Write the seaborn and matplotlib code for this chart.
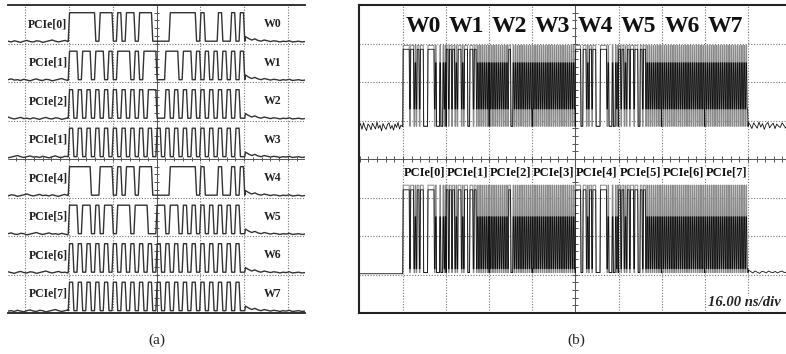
import numpy as np
import matplotlib
matplotlib.use("Agg")
import matplotlib.pyplot as plt
import seaborn as sns

# eight 40-bit words, run lengths starting with a high run
W0_RUNS = [6, 1, 3, 1, 1, 1, 2, 1, 3, 4, 6, 1, 1, 3, 1, 2, 1, 1, 1]
W1_RUNS = [2, 1, 2, 1, 2, 1, 1, 1, 3, 1, 1, 1, 3, 2, 3, 1, 2, 1] + [1] * 11
W2_RUNS = [1] * 18 + [2, 2] + [1] * 18
W3_RUNS = [1] * 40
W4_RUNS = [5, 2, 3, 1, 1, 1, 2, 1, 3, 4, 6, 1, 1, 3, 1, 2, 1, 1, 1]
W5_RUNS = [2, 1, 2, 1, 1, 1, 2, 1, 3, 1, 3, 2, 2, 1, 2, 1] + [1] * 14
W6_RUNS = [1] * 40
W7_RUNS = [1] * 40
WORDS = [W0_RUNS, W1_RUNS, W2_RUNS, W3_RUNS, W4_RUNS, W5_RUNS, W6_RUNS, W7_RUNS]

LANE_LABELS = ["PCIe[0]", "PCIe[1]", "PCIe[2]", "PCIe[1]",
               "PCIe[4]", "PCIe[5]", "PCIe[6]", "PCIe[7]"]
LANE_LABELS_B = ["PCIe[0]", "PCIe[1]", "PCIe[2]", "PCIe[3]",
                 "PCIe[4]", "PCIe[5]", "PCIe[6]", "PCIe[7]"]
WORD_LABELS = ["W0", "W1", "W2", "W3", "W4", "W5", "W6", "W7"]
TIMEBASE = "16.00 ns/div"

# baseline ripple (fractions of a division)
A_PRE = [0.02, 0.0, 0.03, 0.01, -0.01, 0.02, 0.04, 0.01, 0.0, 0.03,
         0.02, -0.01, 0.01, 0.03, 0.05, 0.02, 0.0, 0.02, 0.04, 0.01]
A_POST = [0.14, 0.09, 0.05, 0.08, 0.04, 0.02, 0.05, 0.03, 0.01, 0.03,
          0.02, 0.0, 0.02, 0.01, 0.03, 0.0, 0.01, 0.02, 0.0, 0.01]
B_TOP_PRE = [0.02, 0.1, -0.05, 0.12, 0.0, -0.08, 0.09, 0.04, -0.06, 0.11,
             0.03, -0.04, 0.14, -0.02, 0.06, -0.09, 0.1, 0.01, -0.05, 0.08,
             0.12, -0.03, 0.05, -0.07, 0.09, 0.0, 0.13, -0.04, 0.06, 0.02]
B_TOP_POST = [0.1, 0.04, -0.06, 0.09, 0.02, -0.05, 0.11, -0.02, 0.07, -0.08,
              0.05, 0.1, -0.04, 0.03, 0.08, -0.06, 0.06, 0.0, -0.03, 0.09,
              0.02, -0.05, 0.07, 0.01, -0.02]
B_BOT_POST = [0.06, 0.02, -0.02, 0.03, 0.0, -0.03, 0.02, 0.01, -0.02, 0.03,
              0.0, -0.01, 0.02, -0.02, 0.01, 0.03, -0.01, 0.0, 0.02, -0.02]


def expand(runs):
    bits, level = [], 1
    for n in runs:
        bits += [level] * n
        level = 1 - level
    return bits


def run_len(runs):
    out = []
    for n in runs:
        out += [n] * n
    return out


def build(runs, t0, t1, low, high, ramp, short_low=None, short_high=None):
    bits = expand(runs)
    lens = run_len(runs)
    dt = (t1 - t0) / len(bits)
    r = ramp * dt
    xs, ys = [t0 - r / 2], [low]
    for j, b in enumerate(bits):
        lv = high if b else low
        if lens[j] == 1 and b and short_high is not None:
            lv = short_high
        if lens[j] == 1 and not b and short_low is not None:
            lv = short_low
        xs += [t0 + j * dt + r / 2, t0 + (j + 1) * dt - r / 2]
        ys += [lv, lv]
    xs.append(t1 + r / 2)
    ys.append(low)
    return xs, ys


def center_ticks(ax, xmin, xmax, ymin, ymax, xc, yc, sx, sy):
    ax.hlines(yc, xmin, xmax, color="#555555", lw=0.7, zorder=1)
    ax.vlines(xc, ymin, ymax, color="#555555", lw=0.7, zorder=1)
    tx = np.arange(np.ceil(xmin / 0.2) * 0.2, xmax, 0.2)
    ax.vlines(tx, yc - sy, yc + sy, color="#555555", lw=0.7, zorder=1)
    ty = np.arange(np.ceil(ymin / 0.2) * 0.2, ymax, 0.2)
    ax.hlines(ty, xc - sx, xc + sx, color="#555555", lw=0.7, zorder=1)


sns.set_theme(style="white")
plt.rcParams["font.family"] = ["Liberation Serif", "DejaVu Serif"]

fig = plt.figure(figsize=(7.86, 3.54), dpi=100)

# ---------------- panel (a): the eight lanes, one row each ----------------
ax_a = fig.add_axes([8 / 786, 1 - 313 / 354, 297 / 786, 308 / 354])
ax_a.set_xlim(-0.39, 6.39)
ax_a.set_ylim(0, 8)
for gx in range(7):
    ax_a.axvline(gx, color="#777777", lw=0.8, ls=(0, (1, 1.5)), zorder=1)
for gy in range(1, 8):
    ax_a.axhline(gy, color="#777777", lw=0.8, ls=(0, (1, 1.5)), zorder=1)
center_ticks(ax_a, -0.39, 6.39, 0, 8, 3, 4, 0.06, 0.06)

for i, runs in enumerate(WORDS):
    base = 7 - i
    xs, ys = build(runs, 1.0, 5.0, base + 0.06, base + 0.8, 0.3)
    pre = np.roll(A_PRE, 3 * i)
    post = np.roll(A_POST, 0)
    px = list(np.linspace(-0.39, 1.0 - 0.02, len(pre)))
    qx = list(np.linspace(5.03, 6.39, len(post)))
    x = px + xs + qx
    y = list(base + 0.04 + pre) + ys + list(base + 0.04 + post)
    sns.lineplot(x=np.array(x), y=np.array(y), sort=False, estimator=None,
                 color="#333333", linewidth=1.0, ax=ax_a, legend=False)
    ax_a.text(0.97, base + 0.5, LANE_LABELS[i], ha="right", va="center",
              fontsize=8.5, fontweight="bold", color="#222222", zorder=4,
              bbox=dict(facecolor="white", edgecolor="none", pad=0.5))
    ax_a.text(5.66, base + 0.5, WORD_LABELS[i], ha="center", va="center",
              fontsize=8.5, fontweight="bold", color="#222222")

ax_a.set_xticks([])
ax_a.set_yticks([])
for side in ["left", "right"]:
    ax_a.spines[side].set_visible(False)
for side in ["top", "bottom"]:
    ax_a.spines[side].set_color("#222222")
    ax_a.spines[side].set_linewidth(1.3)

# ---------------- panel (b): serialized words on a 16 ns/div scope ----------------
ax_b = fig.add_axes([359 / 786, 1 - 313 / 354, 432 / 786, 308 / 354])
ax_b.set_xlim(-1.02, 9.0)
ax_b.set_ylim(0, 8)
for gx in range(9):
    ax_b.axvline(gx, color="#777777", lw=0.8, ls=(0, (1, 1.5)), zorder=1)
for gy in range(1, 8):
    ax_b.axhline(gy, color="#777777", lw=0.8, ls=(0, (1, 1.5)), zorder=1)
center_ticks(ax_b, -1.02, 9.0, 0, 8, 4, 4, 0.07, 0.07)

top_gx, top_gy, top_kx, top_ky = [], [], [], []
bot_gx, bot_gy, bot_kx, bot_ky = [], [], [], []
for k, runs in enumerate(WORDS):
    xs, ys = build(runs, k, k + 1, 4.85, 6.95, 0.4)
    top_gx += xs
    top_gy += ys
    xs, ys = build(runs, k, k + 1, 4.85, 6.85, 0.4, short_low=5.3, short_high=6.5)
    top_kx += xs
    top_ky += ys
    xs, ys = build(runs, k, k + 1, 1.05, 3.32, 0.4)
    bot_gx += xs
    bot_gy += ys
    xs, ys = build(runs, k, k + 1, 1.05, 3.2, 0.4, short_low=1.15, short_high=2.5)
    bot_kx += xs
    bot_ky += ys

pre_x = list(np.linspace(-1.02, -0.01, len(B_TOP_PRE)))
post_x = list(np.linspace(8.01, 9.0, len(B_TOP_POST)))
tx = pre_x + top_kx + post_x
ty = list(4.82 + np.array(B_TOP_PRE)) + top_ky + list(4.85 + np.array(B_TOP_POST))
sns.lineplot(x=np.array(top_gx), y=np.array(top_gy), sort=False, estimator=None,
             color="#8a8a8a", linewidth=0.7, ax=ax_b, legend=False)
sns.lineplot(x=np.array(tx), y=np.array(ty), sort=False, estimator=None,
             color="#111111", linewidth=0.6, ax=ax_b, legend=False)

bpost_x = list(np.linspace(8.01, 9.0, len(B_BOT_POST)))
bx = [-1.02, -0.01] + bot_kx + bpost_x
by = [1.02, 1.02] + bot_ky + list(1.06 + np.array(B_BOT_POST))
sns.lineplot(x=np.array(bot_gx), y=np.array(bot_gy), sort=False, estimator=None,
             color="#8a8a8a", linewidth=0.7, ax=ax_b, legend=False)
sns.lineplot(x=np.array(bx), y=np.array(by), sort=False, estimator=None,
             color="#111111", linewidth=0.6, ax=ax_b, legend=False)

for k in range(8):
    ax_b.text(k + 0.47, 7.45, WORD_LABELS[k], ha="center", va="center",
              fontsize=17, fontweight="bold", color="#111111",
              bbox=dict(facecolor="white", edgecolor="none", pad=0.3))
    ax_b.text(k + 0.5, 3.64, LANE_LABELS_B[k], ha="center", va="center",
              fontsize=9, fontweight="bold", color="#111111",
              bbox=dict(facecolor="white", edgecolor="none", pad=0.2))
ax_b.text(7.08, 0.27, TIMEBASE, ha="left", va="center", fontsize=10.5,
          fontweight="bold", fontstyle="italic", color="#222222",
          bbox=dict(facecolor="white", edgecolor="none", pad=0.3))

ax_b.set_xticks([])
ax_b.set_yticks([])
for side in ["left", "top", "bottom", "right"]:
    ax_b.spines[side].set_color("#222222")
    ax_b.spines[side].set_linewidth(1.5)

fig.text(157 / 786, 1 - 340 / 354, "(a)", ha="center", va="center", fontsize=11)
fig.text(576 / 786, 1 - 340 / 354, "(b)", ha="center", va="center", fontsize=11)

fig.savefig("out.png", dpi=100, facecolor="white")
